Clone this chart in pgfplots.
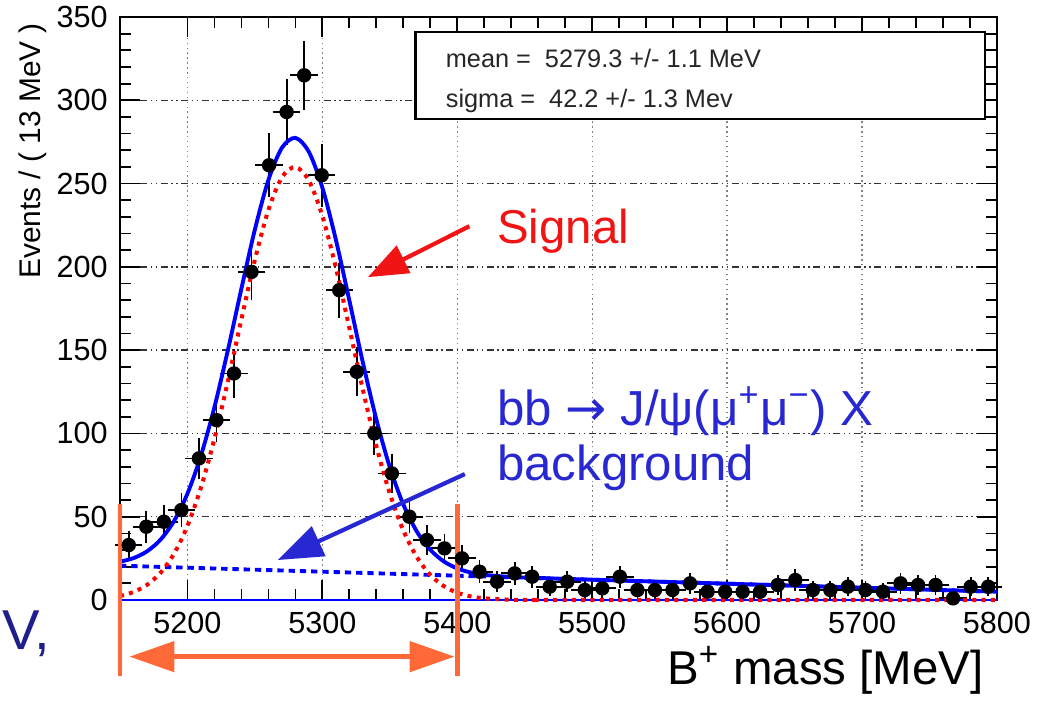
\documentclass[border=0pt]{standalone}
\usepackage{fontspec}
\setmainfont{Liberation Sans}
\newfontfamily\dejavu{DejaVu Sans}
\usepackage{pgfplots}
\usepackage{pgfplotstable}
\pgfplotsset{compat=1.18}
\usetikzlibrary{arrows.meta}
\definecolor{fitblue}{RGB}{0,0,255}
\definecolor{sigred}{RGB}{255,0,0}
\definecolor{notered}{RGB}{240,20,20}
\definecolor{noteblue}{RGB}{40,40,210}
\definecolor{cutorange}{RGB}{255,105,55}
\definecolor{slidenavy}{RGB}{30,30,140}

% B+ candidates, 13 MeV bins: centre, events, sqrt(N)
\pgfplotstableread{
x y ey
5156.5 33 5.74
5169.5 44 6.63
5182.5 47 6.86
5195.5 54 7.35
5208.5 85 9.22
5221.5 108 10.39
5234.5 136 11.66
5247.5 197 14.04
5260.5 261 16.16
5273.5 293 17.12
5286.5 315 17.75
5299.5 255 15.97
5312.5 186 13.64
5325.5 137 11.70
5338.5 100 10.00
5351.5 76 8.72
5364.5 50 7.07
5377.5 36 6.00
5390.5 31 5.57
5403.5 25 5.00
5416.5 17 4.12
5429.5 11 3.32
5442.5 16 4.00
5455.5 14 3.74
5468.5 8 2.83
5481.5 11 3.32
5494.5 6 2.45
5507.5 7 2.65
5520.5 14 3.74
5533.5 6 2.45
5546.5 6 2.45
5559.5 6 2.45
5572.5 10 3.16
5585.5 5 2.24
5598.5 5 2.24
5611.5 5 2.24
5624.5 5 2.24
5637.5 9 3.00
5650.5 12 3.46
5663.5 6 2.45
5676.5 6 2.45
5689.5 8 2.83
5702.5 6 2.45
5715.5 5 2.24
5728.5 10 3.16
5741.5 9 3.00
5754.5 9 3.00
5767.5 1 1.00
5780.5 8 2.83
5793.5 8 2.83
}\massdata

\begin{document}
\begin{tikzpicture}
\begin{axis}[
  at={(0,0)}, anchor=south west,
  scale only axis, width=87.7mm, height=58.3mm,
  xmin=5150, xmax=5800, ymin=0, ymax=350,
  xtick={5200,5300,...,5800}, ytick={0,50,...,350},
  minor x tick num=4, minor y tick num=4,
  tick align=inside, major tick length=2mm, minor tick length=1.1mm,
  tick style={black, line width=0.5pt},
  axis line style={line width=0.8pt},
  grid=major,
  x grid style={densely dotted, gray, line width=0.4pt},
  y grid style={dash pattern=on 2pt off 1pt on 0.4pt off 1pt on 0.4pt off 1pt, black!80, line width=0.4pt},
  ticklabel style={font=\fontsize{8.7}{10}\selectfont},
  /pgf/number format/assume math mode=true,
  /pgf/number format/set thousands separator={},
  scaled ticks=false,
  clip=false,
]
  \addplot[fitblue, line width=0.8pt] coordinates {(5150,0) (5800,0)};
  \addplot[only marks, mark=*, mark size=1.85pt, black,
    error bars/.cd, y dir=both, y explicit, x dir=both, x fixed=6.5,
    error bar style={line width=0.5pt},
    error mark options={mark size=1.4pt, line width=0.5pt, black}]
    table[x=x, y=y, y error=ey] {\massdata};
  % background (dashed)
  \addplot[fitblue, line width=1.1pt, dash pattern=on 1.8pt off 1.4pt] coordinates {
    (5150,20.6) (5250,18.2) (5350,15.8) (5450,13.4) (5550,11.0) (5650,8.6) (5800,5.0)};
  % signal (dotted)
  \addplot[sigred, line width=1.15pt, dash pattern=on 1.15pt off 1.5pt, smooth] coordinates {
    (5150,2.38) (5160,4.78) (5170,9.08) (5180,16.31) (5190,27.70) (5200,44.48)
    (5210,67.51) (5220,96.87) (5230,131.40) (5240,168.52) (5250,204.31)
    (5260,234.18) (5270,253.76) (5280,259.96) (5290,251.77) (5300,230.53)
    (5310,199.55) (5320,163.31) (5330,126.34) (5340,92.41) (5350,63.90)
    (5360,41.77) (5370,25.82) (5380,15.08) (5390,8.33) (5400,4.35)
    (5410,2.15) (5420,1.00) (5440,0.18) (5460,0.03) (5480,0) (5800,0)};
  % total fit
  \addplot[fitblue, line width=1.1pt, smooth] coordinates {
    (5150,22.98) (5160,25.14) (5170,29.20) (5180,36.19) (5190,47.34) (5200,63.88)
    (5210,86.67) (5220,115.79) (5230,150.08) (5240,186.96) (5250,222.51)
    (5260,252.14) (5270,271.48) (5280,277.44) (5290,269.01) (5300,247.53)
    (5310,216.31) (5320,179.83) (5330,142.62) (5340,108.45) (5350,79.70)
    (5360,57.33) (5370,41.14) (5380,30.16) (5390,23.17) (5400,18.95)
    (5410,16.51) (5420,15.12) (5440,13.82) (5460,13.19) (5500,12.20)
    (5600,9.80) (5700,7.40) (5800,5.00)};

  % stats box
  \draw[fill=white, line width=0.6pt] (axis cs:5369,341) rectangle (axis cs:5791,288.6);
  \node[anchor=base west, inner sep=0pt, black!85, font=\fontsize{7.2}{8}\selectfont] at (axis cs:5391,319.5) {mean =\ \ 5279.3 +/- 1.1 MeV};
  \node[anchor=base west, inner sep=0pt, black!85, font=\fontsize{7.2}{8}\selectfont] at (axis cs:5391,295.5) {sigma =\ \ 42.2 +/- 1.3 Mev};

  % annotations
  \node[anchor=base west, inner sep=0pt, notered, font=\fontsize{13.5}{15}\selectfont] at (axis cs:5429,214) {Signal};
  \draw[notered, line width=1.2pt, -{Triangle[length=4mm, width=3mm]}] (axis cs:5409,224.4) -- (axis cs:5333.7,193.8);
  \node[anchor=base west, inner sep=0pt, noteblue, font=\fontsize{14}{16}\selectfont] at (axis cs:5429,105) {bb {\dejavu →} J/ψ(μ\textsuperscript{+}μ\textsuperscript{−}) X};
  \node[anchor=base west, inner sep=0pt, noteblue, font=\fontsize{14}{16}\selectfont] at (axis cs:5429,72) {background};
  \draw[noteblue, line width=1.2pt, -{Triangle[length=4.5mm, width=3.2mm]}] (axis cs:5405.6,75.6) -- (axis cs:5267,24);

  % mass window
  \draw[cutorange, line width=1.4pt] (axis cs:5150,57.6) -- (axis cs:5150,-45.6);
  \draw[cutorange, line width=1.4pt] (axis cs:5400,57.6) -- (axis cs:5400,-45.6);
  \draw[cutorange, line width=1.4pt, {Triangle[length=4.5mm, width=3mm]}-{Triangle[length=4.5mm, width=3mm]}] (axis cs:5157,-34) -- (axis cs:5398,-34);

  % labels
  \node[rotate=90, anchor=south east, inner sep=0pt, font=\fontsize{8.5}{10}\selectfont] at (axis cs:5096,346.8) {Events / ( 13 MeV )};
  \node[anchor=base east, inner sep=0pt, font=\fontsize{13.5}{15}\selectfont] at (axis cs:5790.7,-50.5) {B\textsuperscript{+} mass [MeV]};
  \node[anchor=base east, inner sep=0pt, slidenavy, font=\fontsize{16}{18}\selectfont] at (axis cs:5099,-30) {V,};
\end{axis}
\pgfresetboundingbox
\useasboundingbox (-12mm,-10mm) rectangle (93mm,60mm);
\end{tikzpicture}
\end{document}
